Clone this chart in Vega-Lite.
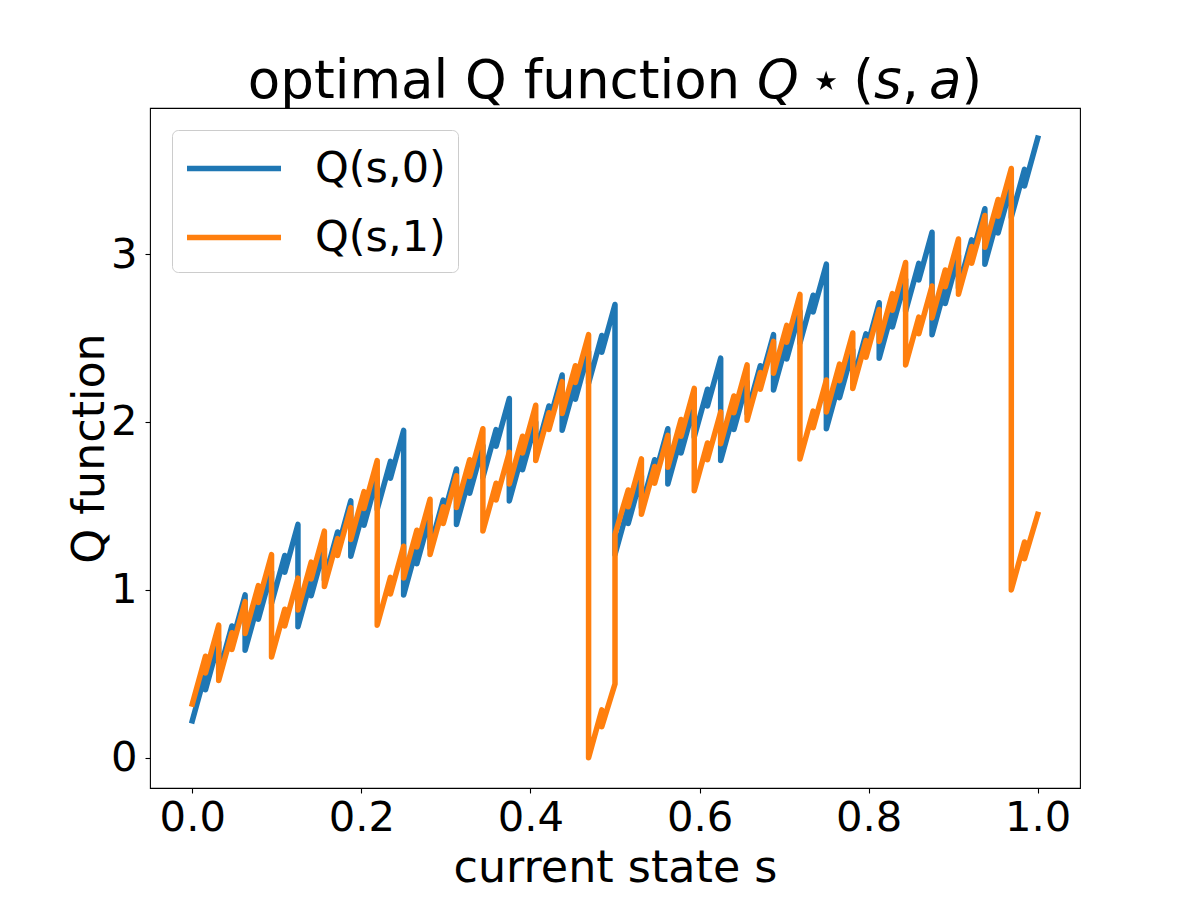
{
"$schema":"https://vega.github.io/schema/vega-lite/v6.json",
"width":930,"height":680,
"autosize":{"type":"none"},
"padding":{"left":150,"top":108,"right":120,"bottom":112},
"background":"white",
"title":{"text":"optimal Q function \uD835\uDE18\u2009\u22C6\u2009(\uD835\uDE34,\u2009\uD835\uDE22)","font":"DejaVu Sans","fontSize":53,"fontWeight":"normal","color":"black","anchor":"middle","baseline":"alphabetic","offset":8,"dy":51},
"config":{
"view":{"stroke":"black","strokeWidth":1.1},
"axis":{"domain":false,"grid":false,"tickColor":"black","tickSize":5,"tickWidth":1.1,"labelFont":"DejaVu Sans","labelFontSize":41.7,"labelColor":"black","titleFont":"DejaVu Sans","titleFontSize":44.4,"titleFontWeight":"normal","titleColor":"black"},
"legend":{"orient":"top-left","offset":22,"title":null,"symbolType":"M-1,0H3","symbolSize":2209,"symbolStrokeWidth":5.5,"labelFont":"DejaVu Sans","labelFontSize":43,"labelColor":"black","labelOffset":78,"rowPadding":20,"padding":12,"fillColor":"white","strokeColor":"#cccccc","cornerRadius":6}
},
"data":{"values":[
{"s":0,"q":0.220,"c":"Q(s,0)","i":0},
{"s":0.015625,"q":0.505,"c":"Q(s,0)","i":1},{"s":0.015625,"q":0.405,"c":"Q(s,0)","i":2},
{"s":0.03125,"q":0.690,"c":"Q(s,0)","i":3},{"s":0.03125,"q":0.500,"c":"Q(s,0)","i":4},
{"s":0.046875,"q":0.785,"c":"Q(s,0)","i":5},{"s":0.046875,"q":0.685,"c":"Q(s,0)","i":6},
{"s":0.0625,"q":0.970,"c":"Q(s,0)","i":7},{"s":0.0625,"q":0.640,"c":"Q(s,0)","i":8},
{"s":0.078125,"q":0.925,"c":"Q(s,0)","i":9},{"s":0.078125,"q":0.825,"c":"Q(s,0)","i":10},
{"s":0.09375,"q":1.110,"c":"Q(s,0)","i":11},{"s":0.09375,"q":0.920,"c":"Q(s,0)","i":12},
{"s":0.109375,"q":1.205,"c":"Q(s,0)","i":13},{"s":0.109375,"q":1.105,"c":"Q(s,0)","i":14},
{"s":0.125,"q":1.390,"c":"Q(s,0)","i":15},{"s":0.125,"q":0.780,"c":"Q(s,0)","i":16},
{"s":0.140625,"q":1.065,"c":"Q(s,0)","i":17},{"s":0.140625,"q":0.965,"c":"Q(s,0)","i":18},
{"s":0.15625,"q":1.250,"c":"Q(s,0)","i":19},{"s":0.15625,"q":1.060,"c":"Q(s,0)","i":20},
{"s":0.171875,"q":1.345,"c":"Q(s,0)","i":21},{"s":0.171875,"q":1.245,"c":"Q(s,0)","i":22},
{"s":0.1875,"q":1.530,"c":"Q(s,0)","i":23},{"s":0.1875,"q":1.200,"c":"Q(s,0)","i":24},
{"s":0.203125,"q":1.485,"c":"Q(s,0)","i":25},{"s":0.203125,"q":1.385,"c":"Q(s,0)","i":26},
{"s":0.21875,"q":1.670,"c":"Q(s,0)","i":27},{"s":0.21875,"q":1.480,"c":"Q(s,0)","i":28},
{"s":0.234375,"q":1.765,"c":"Q(s,0)","i":29},{"s":0.234375,"q":1.665,"c":"Q(s,0)","i":30},
{"s":0.25,"q":1.950,"c":"Q(s,0)","i":31},{"s":0.25,"q":0.970,"c":"Q(s,0)","i":32},
{"s":0.265625,"q":1.255,"c":"Q(s,0)","i":33},{"s":0.265625,"q":1.155,"c":"Q(s,0)","i":34},
{"s":0.28125,"q":1.440,"c":"Q(s,0)","i":35},{"s":0.28125,"q":1.250,"c":"Q(s,0)","i":36},
{"s":0.296875,"q":1.535,"c":"Q(s,0)","i":37},{"s":0.296875,"q":1.435,"c":"Q(s,0)","i":38},
{"s":0.3125,"q":1.720,"c":"Q(s,0)","i":39},{"s":0.3125,"q":1.390,"c":"Q(s,0)","i":40},
{"s":0.328125,"q":1.675,"c":"Q(s,0)","i":41},{"s":0.328125,"q":1.575,"c":"Q(s,0)","i":42},
{"s":0.34375,"q":1.860,"c":"Q(s,0)","i":43},{"s":0.34375,"q":1.670,"c":"Q(s,0)","i":44},
{"s":0.359375,"q":1.955,"c":"Q(s,0)","i":45},{"s":0.359375,"q":1.855,"c":"Q(s,0)","i":46},
{"s":0.375,"q":2.140,"c":"Q(s,0)","i":47},{"s":0.375,"q":1.530,"c":"Q(s,0)","i":48},
{"s":0.390625,"q":1.815,"c":"Q(s,0)","i":49},{"s":0.390625,"q":1.715,"c":"Q(s,0)","i":50},
{"s":0.40625,"q":2.000,"c":"Q(s,0)","i":51},{"s":0.40625,"q":1.810,"c":"Q(s,0)","i":52},
{"s":0.421875,"q":2.095,"c":"Q(s,0)","i":53},{"s":0.421875,"q":1.995,"c":"Q(s,0)","i":54},
{"s":0.4375,"q":2.280,"c":"Q(s,0)","i":55},{"s":0.4375,"q":1.950,"c":"Q(s,0)","i":56},
{"s":0.453125,"q":2.235,"c":"Q(s,0)","i":57},{"s":0.453125,"q":2.135,"c":"Q(s,0)","i":58},
{"s":0.46875,"q":2.420,"c":"Q(s,0)","i":59},{"s":0.46875,"q":2.230,"c":"Q(s,0)","i":60},
{"s":0.484375,"q":2.515,"c":"Q(s,0)","i":61},{"s":0.484375,"q":2.415,"c":"Q(s,0)","i":62},
{"s":0.5,"q":2.700,"c":"Q(s,0)","i":63},{"s":0.5,"q":1.210,"c":"Q(s,0)","i":64},
{"s":0.515625,"q":1.495,"c":"Q(s,0)","i":65},{"s":0.515625,"q":1.395,"c":"Q(s,0)","i":66},
{"s":0.53125,"q":1.680,"c":"Q(s,0)","i":67},{"s":0.53125,"q":1.490,"c":"Q(s,0)","i":68},
{"s":0.546875,"q":1.775,"c":"Q(s,0)","i":69},{"s":0.546875,"q":1.675,"c":"Q(s,0)","i":70},
{"s":0.5625,"q":1.960,"c":"Q(s,0)","i":71},{"s":0.5625,"q":1.630,"c":"Q(s,0)","i":72},
{"s":0.578125,"q":1.915,"c":"Q(s,0)","i":73},{"s":0.578125,"q":1.815,"c":"Q(s,0)","i":74},
{"s":0.59375,"q":2.100,"c":"Q(s,0)","i":75},{"s":0.59375,"q":1.910,"c":"Q(s,0)","i":76},
{"s":0.609375,"q":2.195,"c":"Q(s,0)","i":77},{"s":0.609375,"q":2.095,"c":"Q(s,0)","i":78},
{"s":0.625,"q":2.380,"c":"Q(s,0)","i":79},{"s":0.625,"q":1.770,"c":"Q(s,0)","i":80},
{"s":0.640625,"q":2.055,"c":"Q(s,0)","i":81},{"s":0.640625,"q":1.955,"c":"Q(s,0)","i":82},
{"s":0.65625,"q":2.240,"c":"Q(s,0)","i":83},{"s":0.65625,"q":2.050,"c":"Q(s,0)","i":84},
{"s":0.671875,"q":2.335,"c":"Q(s,0)","i":85},{"s":0.671875,"q":2.235,"c":"Q(s,0)","i":86},
{"s":0.6875,"q":2.520,"c":"Q(s,0)","i":87},{"s":0.6875,"q":2.190,"c":"Q(s,0)","i":88},
{"s":0.703125,"q":2.475,"c":"Q(s,0)","i":89},{"s":0.703125,"q":2.375,"c":"Q(s,0)","i":90},
{"s":0.71875,"q":2.660,"c":"Q(s,0)","i":91},{"s":0.71875,"q":2.470,"c":"Q(s,0)","i":92},
{"s":0.734375,"q":2.755,"c":"Q(s,0)","i":93},{"s":0.734375,"q":2.655,"c":"Q(s,0)","i":94},
{"s":0.75,"q":2.940,"c":"Q(s,0)","i":95},{"s":0.75,"q":1.960,"c":"Q(s,0)","i":96},
{"s":0.765625,"q":2.245,"c":"Q(s,0)","i":97},{"s":0.765625,"q":2.145,"c":"Q(s,0)","i":98},
{"s":0.78125,"q":2.430,"c":"Q(s,0)","i":99},{"s":0.78125,"q":2.240,"c":"Q(s,0)","i":100},
{"s":0.796875,"q":2.525,"c":"Q(s,0)","i":101},{"s":0.796875,"q":2.425,"c":"Q(s,0)","i":102},
{"s":0.8125,"q":2.710,"c":"Q(s,0)","i":103},{"s":0.8125,"q":2.380,"c":"Q(s,0)","i":104},
{"s":0.828125,"q":2.665,"c":"Q(s,0)","i":105},{"s":0.828125,"q":2.565,"c":"Q(s,0)","i":106},
{"s":0.84375,"q":2.850,"c":"Q(s,0)","i":107},{"s":0.84375,"q":2.660,"c":"Q(s,0)","i":108},
{"s":0.859375,"q":2.945,"c":"Q(s,0)","i":109},{"s":0.859375,"q":2.845,"c":"Q(s,0)","i":110},
{"s":0.875,"q":3.130,"c":"Q(s,0)","i":111},{"s":0.875,"q":2.520,"c":"Q(s,0)","i":112},
{"s":0.890625,"q":2.805,"c":"Q(s,0)","i":113},{"s":0.890625,"q":2.705,"c":"Q(s,0)","i":114},
{"s":0.90625,"q":2.990,"c":"Q(s,0)","i":115},{"s":0.90625,"q":2.800,"c":"Q(s,0)","i":116},
{"s":0.921875,"q":3.085,"c":"Q(s,0)","i":117},{"s":0.921875,"q":2.985,"c":"Q(s,0)","i":118},
{"s":0.9375,"q":3.270,"c":"Q(s,0)","i":119},{"s":0.9375,"q":2.940,"c":"Q(s,0)","i":120},
{"s":0.953125,"q":3.225,"c":"Q(s,0)","i":121},{"s":0.953125,"q":3.125,"c":"Q(s,0)","i":122},
{"s":0.96875,"q":3.410,"c":"Q(s,0)","i":123},{"s":0.96875,"q":3.220,"c":"Q(s,0)","i":124},
{"s":0.984375,"q":3.505,"c":"Q(s,0)","i":125},{"s":0.984375,"q":3.405,"c":"Q(s,0)","i":126},
{"s":1,"q":3.690,"c":"Q(s,0)","i":127},
{"s":0,"q":0.320,"c":"Q(s,1)","i":0},
{"s":0.015625,"q":0.605,"c":"Q(s,1)","i":1},{"s":0.015625,"q":0.505,"c":"Q(s,1)","i":2},
{"s":0.03125,"q":0.790,"c":"Q(s,1)","i":3},{"s":0.03125,"q":0.460,"c":"Q(s,1)","i":4},
{"s":0.046875,"q":0.745,"c":"Q(s,1)","i":5},{"s":0.046875,"q":0.645,"c":"Q(s,1)","i":6},
{"s":0.0625,"q":0.930,"c":"Q(s,1)","i":7},{"s":0.0625,"q":0.740,"c":"Q(s,1)","i":8},
{"s":0.078125,"q":1.025,"c":"Q(s,1)","i":9},{"s":0.078125,"q":0.925,"c":"Q(s,1)","i":10},
{"s":0.09375,"q":1.210,"c":"Q(s,1)","i":11},{"s":0.09375,"q":0.600,"c":"Q(s,1)","i":12},
{"s":0.109375,"q":0.885,"c":"Q(s,1)","i":13},{"s":0.109375,"q":0.785,"c":"Q(s,1)","i":14},
{"s":0.125,"q":1.070,"c":"Q(s,1)","i":15},{"s":0.125,"q":0.880,"c":"Q(s,1)","i":16},
{"s":0.140625,"q":1.165,"c":"Q(s,1)","i":17},{"s":0.140625,"q":1.065,"c":"Q(s,1)","i":18},
{"s":0.15625,"q":1.350,"c":"Q(s,1)","i":19},{"s":0.15625,"q":1.020,"c":"Q(s,1)","i":20},
{"s":0.171875,"q":1.305,"c":"Q(s,1)","i":21},{"s":0.171875,"q":1.205,"c":"Q(s,1)","i":22},
{"s":0.1875,"q":1.490,"c":"Q(s,1)","i":23},{"s":0.1875,"q":1.300,"c":"Q(s,1)","i":24},
{"s":0.203125,"q":1.585,"c":"Q(s,1)","i":25},{"s":0.203125,"q":1.485,"c":"Q(s,1)","i":26},
{"s":0.21875,"q":1.770,"c":"Q(s,1)","i":27},{"s":0.21875,"q":0.790,"c":"Q(s,1)","i":28},
{"s":0.234375,"q":1.075,"c":"Q(s,1)","i":29},{"s":0.234375,"q":0.975,"c":"Q(s,1)","i":30},
{"s":0.25,"q":1.260,"c":"Q(s,1)","i":31},{"s":0.25,"q":1.070,"c":"Q(s,1)","i":32},
{"s":0.265625,"q":1.355,"c":"Q(s,1)","i":33},{"s":0.265625,"q":1.255,"c":"Q(s,1)","i":34},
{"s":0.28125,"q":1.540,"c":"Q(s,1)","i":35},{"s":0.28125,"q":1.210,"c":"Q(s,1)","i":36},
{"s":0.296875,"q":1.495,"c":"Q(s,1)","i":37},{"s":0.296875,"q":1.395,"c":"Q(s,1)","i":38},
{"s":0.3125,"q":1.680,"c":"Q(s,1)","i":39},{"s":0.3125,"q":1.490,"c":"Q(s,1)","i":40},
{"s":0.328125,"q":1.775,"c":"Q(s,1)","i":41},{"s":0.328125,"q":1.675,"c":"Q(s,1)","i":42},
{"s":0.34375,"q":1.960,"c":"Q(s,1)","i":43},{"s":0.34375,"q":1.350,"c":"Q(s,1)","i":44},
{"s":0.359375,"q":1.635,"c":"Q(s,1)","i":45},{"s":0.359375,"q":1.535,"c":"Q(s,1)","i":46},
{"s":0.375,"q":1.820,"c":"Q(s,1)","i":47},{"s":0.375,"q":1.630,"c":"Q(s,1)","i":48},
{"s":0.390625,"q":1.915,"c":"Q(s,1)","i":49},{"s":0.390625,"q":1.815,"c":"Q(s,1)","i":50},
{"s":0.40625,"q":2.100,"c":"Q(s,1)","i":51},{"s":0.40625,"q":1.770,"c":"Q(s,1)","i":52},
{"s":0.421875,"q":2.055,"c":"Q(s,1)","i":53},{"s":0.421875,"q":1.955,"c":"Q(s,1)","i":54},
{"s":0.4375,"q":2.240,"c":"Q(s,1)","i":55},{"s":0.4375,"q":2.050,"c":"Q(s,1)","i":56},
{"s":0.453125,"q":2.335,"c":"Q(s,1)","i":57},{"s":0.453125,"q":2.235,"c":"Q(s,1)","i":58},
{"s":0.46875,"q":2.520,"c":"Q(s,1)","i":59},{"s":0.46875,"q":0.000,"c":"Q(s,1)","i":60},
{"s":0.484375,"q":0.285,"c":"Q(s,1)","i":61},{"s":0.484375,"q":0.185,"c":"Q(s,1)","i":62},
{"s":0.5,"q":0.440,"c":"Q(s,1)","i":63},{"s":0.5,"q":1.330,"c":"Q(s,1)","i":64},
{"s":0.515625,"q":1.595,"c":"Q(s,1)","i":65},{"s":0.515625,"q":1.495,"c":"Q(s,1)","i":66},
{"s":0.53125,"q":1.780,"c":"Q(s,1)","i":67},{"s":0.53125,"q":1.450,"c":"Q(s,1)","i":68},
{"s":0.546875,"q":1.735,"c":"Q(s,1)","i":69},{"s":0.546875,"q":1.635,"c":"Q(s,1)","i":70},
{"s":0.5625,"q":1.920,"c":"Q(s,1)","i":71},{"s":0.5625,"q":1.730,"c":"Q(s,1)","i":72},
{"s":0.578125,"q":2.015,"c":"Q(s,1)","i":73},{"s":0.578125,"q":1.915,"c":"Q(s,1)","i":74},
{"s":0.59375,"q":2.200,"c":"Q(s,1)","i":75},{"s":0.59375,"q":1.590,"c":"Q(s,1)","i":76},
{"s":0.609375,"q":1.875,"c":"Q(s,1)","i":77},{"s":0.609375,"q":1.775,"c":"Q(s,1)","i":78},
{"s":0.625,"q":2.060,"c":"Q(s,1)","i":79},{"s":0.625,"q":1.870,"c":"Q(s,1)","i":80},
{"s":0.640625,"q":2.155,"c":"Q(s,1)","i":81},{"s":0.640625,"q":2.055,"c":"Q(s,1)","i":82},
{"s":0.65625,"q":2.340,"c":"Q(s,1)","i":83},{"s":0.65625,"q":2.010,"c":"Q(s,1)","i":84},
{"s":0.671875,"q":2.295,"c":"Q(s,1)","i":85},{"s":0.671875,"q":2.195,"c":"Q(s,1)","i":86},
{"s":0.6875,"q":2.480,"c":"Q(s,1)","i":87},{"s":0.6875,"q":2.290,"c":"Q(s,1)","i":88},
{"s":0.703125,"q":2.575,"c":"Q(s,1)","i":89},{"s":0.703125,"q":2.475,"c":"Q(s,1)","i":90},
{"s":0.71875,"q":2.760,"c":"Q(s,1)","i":91},{"s":0.71875,"q":1.780,"c":"Q(s,1)","i":92},
{"s":0.734375,"q":2.065,"c":"Q(s,1)","i":93},{"s":0.734375,"q":1.965,"c":"Q(s,1)","i":94},
{"s":0.75,"q":2.250,"c":"Q(s,1)","i":95},{"s":0.75,"q":2.060,"c":"Q(s,1)","i":96},
{"s":0.765625,"q":2.345,"c":"Q(s,1)","i":97},{"s":0.765625,"q":2.245,"c":"Q(s,1)","i":98},
{"s":0.78125,"q":2.530,"c":"Q(s,1)","i":99},{"s":0.78125,"q":2.200,"c":"Q(s,1)","i":100},
{"s":0.796875,"q":2.485,"c":"Q(s,1)","i":101},{"s":0.796875,"q":2.385,"c":"Q(s,1)","i":102},
{"s":0.8125,"q":2.670,"c":"Q(s,1)","i":103},{"s":0.8125,"q":2.480,"c":"Q(s,1)","i":104},
{"s":0.828125,"q":2.765,"c":"Q(s,1)","i":105},{"s":0.828125,"q":2.665,"c":"Q(s,1)","i":106},
{"s":0.84375,"q":2.950,"c":"Q(s,1)","i":107},{"s":0.84375,"q":2.340,"c":"Q(s,1)","i":108},
{"s":0.859375,"q":2.625,"c":"Q(s,1)","i":109},{"s":0.859375,"q":2.525,"c":"Q(s,1)","i":110},
{"s":0.875,"q":2.810,"c":"Q(s,1)","i":111},{"s":0.875,"q":2.620,"c":"Q(s,1)","i":112},
{"s":0.890625,"q":2.905,"c":"Q(s,1)","i":113},{"s":0.890625,"q":2.805,"c":"Q(s,1)","i":114},
{"s":0.90625,"q":3.090,"c":"Q(s,1)","i":115},{"s":0.90625,"q":2.760,"c":"Q(s,1)","i":116},
{"s":0.921875,"q":3.045,"c":"Q(s,1)","i":117},{"s":0.921875,"q":2.945,"c":"Q(s,1)","i":118},
{"s":0.9375,"q":3.230,"c":"Q(s,1)","i":119},{"s":0.9375,"q":3.040,"c":"Q(s,1)","i":120},
{"s":0.953125,"q":3.325,"c":"Q(s,1)","i":121},{"s":0.953125,"q":3.225,"c":"Q(s,1)","i":122},
{"s":0.96875,"q":3.510,"c":"Q(s,1)","i":123},{"s":0.96875,"q":1.000,"c":"Q(s,1)","i":124},
{"s":0.984375,"q":1.285,"c":"Q(s,1)","i":125},{"s":0.984375,"q":1.185,"c":"Q(s,1)","i":126},
{"s":1,"q":1.450,"c":"Q(s,1)","i":127}
]},
"mark":{"type":"line","strokeWidth":5.5,"strokeJoin":"round","strokeCap":"square","clip":true},
"encoding":{
"x":{"field":"s","type":"quantitative","scale":{"domain":[-0.05,1.05],"zero":false,"nice":false},
"axis":{"values":[0,0.2,0.4,0.6,0.8,1],"format":".1f","labelFlush":false,"labelOverlap":false,"labelPadding":4,"title":"current state s","titleX":465,"titleY":93,"titleBaseline":"alphabetic"}},
"y":{"field":"q","type":"quantitative","scale":{"domain":[-0.18,3.87],"zero":false,"nice":false},
"axis":{"values":[0,1,2,3],"labelPadding":8,"labelOverlap":false,"title":"Q function","titleX":-47,"titleY":340,"titleAngle":-90,"titleBaseline":"alphabetic","titleAlign":"center"}},
"color":{"field":"c","type":"nominal","scale":{"domain":["Q(s,0)","Q(s,1)"],"range":["#1f77b4","#ff7f0e"]}},
"order":{"field":"i","type":"quantitative"}
}
}
